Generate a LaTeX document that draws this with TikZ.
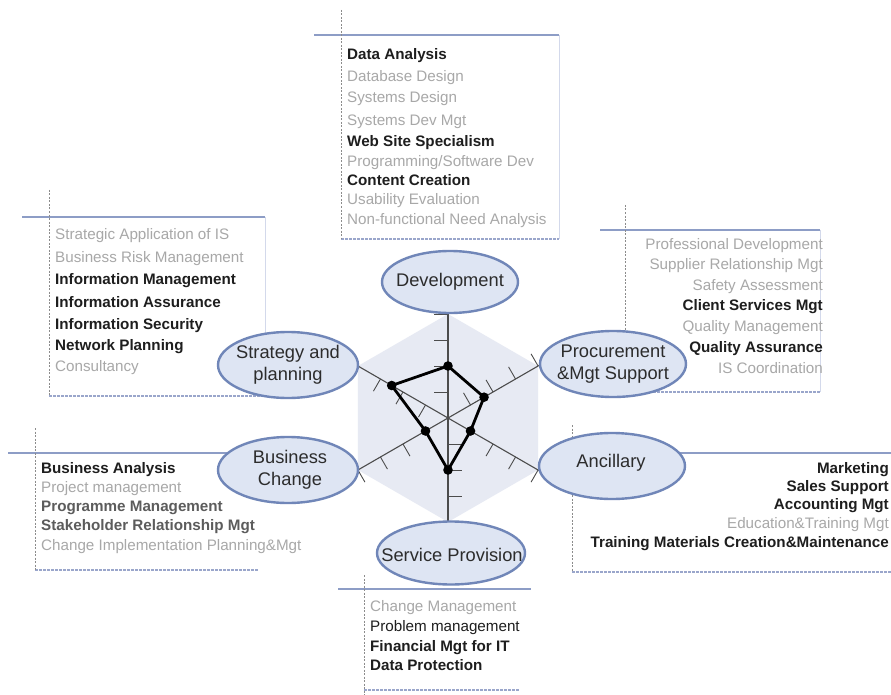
\documentclass[tikz,border=0pt]{standalone}
\usepackage{fontspec}
\setmainfont{Liberation Sans}
\usetikzlibrary{calc,shapes.geometric}

\definecolor{topbarblue}{HTML}{8D9DC6}
\definecolor{botbarblue}{HTML}{9AA6CB}
\definecolor{guidegrey}{HTML}{8C8C8C}
\definecolor{rimblue}{HTML}{D3D9EB}
\definecolor{skillgrey}{HTML}{A8A8A8}
\definecolor{skilldark}{HTML}{1E1E1E}
\definecolor{skillmid}{HTML}{5C5C5C}
\definecolor{ovalfill}{HTML}{DEE5F3}
\definecolor{ovaldraw}{HTML}{7086B8}
\definecolor{ovalink}{HTML}{2C2C2C}
\definecolor{hexfill}{HTML}{E7EAF3}
\definecolor{axisgrey}{HTML}{4C4C4C}

\newcommand\skillfont{\fontsize{15.2}{18}\selectfont}
\newcommand\ovalfont{\fontsize{18.3}{21.5}\selectfont}

\begin{document}
\begin{tikzpicture}[x=1pt,y=-1pt,
  topbar/.style={draw=topbarblue,line width=2pt},
  botbar/.style={draw=botbarblue,line width=2pt,dash pattern=on 3pt off 1pt},
  guide/.style={draw=guidegrey,line width=0.9pt,dash pattern=on 2pt off 1.5pt},
  rim/.style={draw=rimblue,line width=0.8pt},
  skill/.style={inner sep=0pt,anchor=mid west,font=\skillfont,text=skillgrey},
  strong/.style={skill,font=\skillfont\bfseries,text=skilldark},
  midstrong/.style={skill,font=\skillfont\bfseries,text=skillmid},
  plain/.style={skill,text=skilldark},
  flush/.style={anchor=mid east},
  oval/.style={ellipse,draw=ovaldraw,line width=2.4pt,fill=ovalfill,inner sep=0pt},
  ovaltext/.style={align=center,font=\ovalfont,text=ovalink,inner sep=0pt},
  axisline/.style={draw=axisgrey,line width=1.1pt},
  tickline/.style={draw=axisgrey,line width=0.9pt},
  datapoly/.style={draw=black,line width=2.8pt,line join=round},
  datadot/.style={fill=black}]

\useasboundingbox (0,0) rectangle (891,695);
\fill[white] (0,0) rectangle (891,695);

% ---------- skill lists: frames ----------
% Development
\draw[topbar] (314,35) -- (559,35);
\draw[rim] (559,35) -- (559,239);
\draw[botbar] (341,239) -- (559,239);
\draw[guide] (341,10) -- (341,239);
% Strategy and planning
\draw[topbar] (22,217) -- (265,217);
\draw[rim] (265,217) -- (265,345);
\draw[botbar] (49,396) -- (300,396);
\draw[guide] (49,190) -- (49,396);
% Procurement & Mgt Support
\draw[topbar] (600,230) -- (820,230);
\draw[rim] (820,230) -- (820,392);
\draw[botbar] (625,392) -- (820,392);
\draw[guide] (625,205) -- (625,392);
% Business Change
\draw[topbar] (8,453) -- (260,453);
\draw[botbar] (35,570) -- (258,570);
\draw[guide] (35,428) -- (35,570);
% Ancillary
\draw[topbar] (660,453) -- (891,453);
\draw[botbar] (572,572) -- (891,572);
\draw[guide] (572,425) -- (572,572);
% Service Provision
\draw[topbar] (338,589) -- (531,589);
\draw[botbar] (364,690) -- (520,690);
\draw[guide] (364,575) -- (364,695);

% ---------- radar chart ----------
\begin{scope}[shift={(448,418)},yscale=-1]
  \coordinate (c) at (0,0);
  \fill[hexfill] (90:104) -- (30:104) -- (-30:104) -- (-90:104) -- (-150:104) -- (150:104) -- cycle;
  % axis ends (hidden under the ovals)
  \coordinate (eDev)   at (90:112);
  \coordinate (eProc)  at (30:112);
  \coordinate (eAnc)   at (-30:112);
  \coordinate (eServ)  at (-90:112);
  \coordinate (eBC)    at (210:112);
  \coordinate (eStrat) at (150:112);
  \foreach \e in {eDev,eProc,eAnc,eServ,eBC,eStrat}
    \draw[axisline] (c) -- (\e);
  % scale ticks, one unit = 26
  \foreach \ang/\side in {90/180,30/120,-30/-120,-90/0,210/300,150/240}
    \foreach \k in {1,...,4}
      \draw[tickline] (\ang:{26*\k}) -- ++(\side:14);
  % scores
  \coordinate (pDev)   at (90:52);
  \coordinate (pProc)  at (30:41.6);
  \coordinate (pAnc)   at (-30:26);
  \coordinate (pServ)  at (-90:52);
  \coordinate (pBC)    at (210:26);
  \coordinate (pStrat) at (150:65);
  \draw[datapoly] (pDev) -- (pProc) -- (pAnc) -- (pServ) -- (pBC) -- (pStrat) -- cycle;
  \foreach \p in {pDev,pProc,pAnc,pServ,pBC,pStrat}
    \fill[datadot] (\p) circle (4.8);
\end{scope}

% ---------- category ovals ----------
\node[oval,minimum width=136,minimum height=62] (dev) at (450,282) {};
\node[ovaltext] (devt) at (dev) {Development};
\node[oval,minimum width=140,minimum height=66] (strat) at (288,365) {};
\node[ovaltext] (stratt) at (strat) {Strategy and\\planning};
\node[oval,minimum width=146,minimum height=66] (proc) at (613,364) {};
\node[ovaltext] (proct) at (proc) {Procurement\\\&Mgt Support};
\node[oval,minimum width=140,minimum height=66] (bc) at (288,470) {};
\node[ovaltext] (bct) at (290,470) {Business\\Change};
\node[oval,minimum width=146,minimum height=66] (anc) at (612,466) {};
\node[ovaltext] (anct) at (611,463) {Ancillary};
\node[oval,minimum width=148,minimum height=63] (serv) at (451,553) {};
\node[ovaltext] (servt) at (452,555) {Service Provision};

% ---------- skill lists: entries ----------
% Development
\node[strong] (dv1) at (347,57)  {Data Analysis};
\node[skill]  (dv2) at (347,79)  {Database Design};
\node[skill]  (dv3) at (347,100) {Systems Design};
\node[skill]  (dv4) at (347,123) {Systems Dev Mgt};
\node[strong] (dv5) at (347,144) {Web Site Specialism};
\node[skill]  (dv6) at (347,164) {Programming/Software Dev};
\node[strong] (dv7) at (347,183) {Content Creation};
\node[skill]  (dv8) at (347,202) {Usability Evaluation};
\node[skill]  (dv9) at (347,222) {Non-functional Need Analysis};
% Strategy and planning
\node[skill]  (sp1) at (55,237) {Strategic Application of IS};
\node[skill]  (sp2) at (55,260) {Business Risk Management};
\node[strong] (sp3) at (55,282) {Information Management};
\node[strong] (sp4) at (55,305) {Information Assurance};
\node[strong] (sp5) at (55,327) {Information Security};
\node[strong] (sp6) at (55,348) {Network Planning};
\node[skill]  (sp7) at (55,369) {Consultancy};
% Procurement & Mgt Support
\node[skill,flush]  (pm1) at (823,247) {Professional Development};
\node[skill,flush]  (pm2) at (823,267) {Supplier Relationship Mgt};
\node[skill,flush]  (pm3) at (823,288) {Safety Assessment};
\node[strong,flush] (pm4) at (823,308) {Client Services Mgt};
\node[skill,flush]  (pm5) at (823,329) {Quality Management};
\node[strong,flush] (pm6) at (823,350) {Quality Assurance};
\node[skill,flush]  (pm7) at (823,371) {IS Coordination};
% Business Change
\node[strong]    (bc1) at (41,471) {Business Analysis};
\node[skill]     (bc2) at (41,490) {Project management};
\node[midstrong] (bc3) at (41,509) {Programme Management};
\node[midstrong] (bc4) at (41,528) {Stakeholder Relationship Mgt};
\node[skill]     (bc5) at (41,548) {Change Implementation Planning\&Mgt};
% Ancillary
\node[strong,flush] (an1) at (889,471) {Marketing};
\node[strong,flush] (an2) at (889,489) {Sales Support};
\node[strong,flush] (an3) at (889,507) {Accounting Mgt};
\node[skill,flush]  (an4) at (889,526) {Education\&Training Mgt};
\node[strong,flush] (an5) at (889,545) {Training Materials Creation\&Maintenance};
% Service Provision
\node[skill]  (sv1) at (370,609) {Change Management};
\node[plain]  (sv2) at (370,629) {Problem management};
\node[strong] (sv3) at (370,649) {Financial Mgt for IT};
\node[strong] (sv4) at (370,668) {Data Protection};
\end{tikzpicture}
\end{document}
